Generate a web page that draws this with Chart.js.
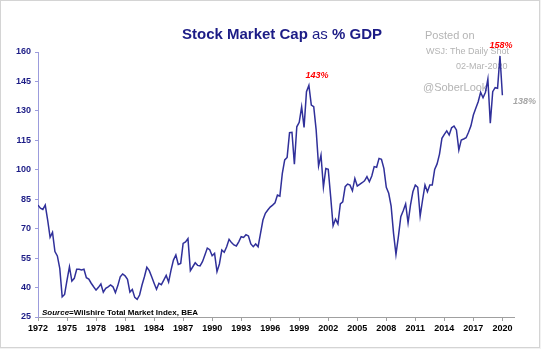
<!DOCTYPE html>
<html>
<head>
<meta charset="utf-8">
<title>Stock Market Cap as % GDP</title>
<script src="https://cdn.jsdelivr.net/npm/chart.js"></script>
<style>
  html, body { margin: 0; padding: 0; background: #fff; }
  #wrap { width: 541px; height: 349px; position: relative; }
</style>
</head>
<body>
<div id="wrap"><canvas id="capChart"></canvas></div>
<script>
// quarterly Wilshire 5000 market cap as % of GDP, starting Q1 1972
const firstYear = 1972;
const cap1970s = [82, 80.4, 79.8, 82, 74.4, 65.6, 68.1, 58.3, 56.1, 49.8, 35.3, 36.5,
  43.8, 50.6, 43.3, 44.7, 49.3, 49.3, 48.9, 49.3, 45, 44.3, 42.2, 40.4,
  38.7, 40.1, 41.8, 37.6, 39.6, 40.4, 41.3, 40.4];
const cap1980s = [37.4, 41, 45.5, 46.9, 46, 44.2, 37.7, 39, 35, 34, 36.2, 41.3,
  45.5, 50.3, 48.6, 45.5, 42.2, 39.1, 42.2, 41.5, 43.8, 46.2, 42.8, 48.9,
  54, 56.6, 51.8, 52.3, 62.5, 63.2, 64.9, 48.6, 50.6, 52.6, 51.3, 51,
  53.2, 56.6, 60.1, 59.3];
const cap1990s = [56.2, 57.4, 48.1, 52, 59.1, 58, 60.8, 64.6, 62.9, 61.7, 61.2, 63.3,
  65.9, 65.5, 66.9, 66.3, 62.2, 60.8, 62.2, 60.8, 67.6, 74.4, 77.8, 79.5,
  81, 82, 83.2, 87.1, 86.6, 98, 105, 106.3, 118.9, 119.1, 102.9, 121.9,
  124.2, 132.1, 121.6, 139.8];
const cap2000s = [143, 133, 132.1, 120.3, 101.9, 107.5, 91.1, 100.6, 100.2, 86.3, 71.5, 74.9,
  72.4, 82.6, 83.7, 91.4, 92.7, 92.2, 89.3, 95.6, 91.7, 92.6, 93.4, 94.4,
  96.5, 93.9, 96.8, 101.6, 101.3, 105.8, 105.3, 100.7, 91.1, 88, 81.5, 67.6,
  56.9, 65.9, 76.1, 79.1];
const cap2010s = [82.6, 73, 82, 88.8, 92.2, 91.1, 76.4, 84.6, 92.2, 88.8, 92.2, 92.2,
  100.2, 103, 108, 116, 118, 119.8, 117.7, 121.4, 122.3, 120.3, 110.1, 115.2,
  115.7, 116.3, 119.1, 122.4, 127.9, 131.3, 134.7, 139.5, 136.7, 139.5, 146.2, 123.7,
  139.8, 141.8, 141.5, 158];
const cap2020s = [138];

const yearTicks = [1972, 1975, 1978, 1981, 1984, 1987, 1990, 1993, 1996, 1999, 2002, 2005, 2008, 2011, 2014, 2017, 2020];
const pctTicks = [25, 40, 55, 70, 85, 100, 115, 130, 145, 160];

// value callouts: [year, value, text, colour, dx, dy]
const callouts = [
  [2000, 143, '143%', '#ff0000', 8, -10],
  [2019.75, 158, '158%', '#ff0000', 1, -10],
  [2020, 138, '138%', '#a6a6a6', 22, 6]
];

const capPct = [].concat(cap1970s, cap1980s, cap1990s, cap2000s, cap2010s, cap2020s);
const points = capPct.map((v, i) => ({ x: firstYear + i / 4, y: v }));

const FONT = 'Arial, "Liberation Sans", sans-serif';
const NAVY = '#1c1c86';

const decor = {
  id: 'decor',
  beforeDraw(chart) {
    const ctx = chart.ctx;
    ctx.save();
    ctx.fillStyle = '#f2f2f2';
    ctx.fillRect(0, 0, 541, 349);
    ctx.fillStyle = '#ffffff';
    ctx.fillRect(1, 1, 538, 346);
    ctx.strokeStyle = '#d4d4d4';
    ctx.lineWidth = 1;
    ctx.strokeRect(0.5, 0.5, 539, 347);

    // title with mixed weights
    const parts = [['bold', 'Stock Market Cap'], ['normal', ' as '], ['bold', '% GDP']];
    ctx.fillStyle = NAVY;
    ctx.textBaseline = 'middle';
    ctx.textAlign = 'left';
    let total = 0;
    parts.forEach(p => { ctx.font = p[0] + ' 15px ' + FONT; total += ctx.measureText(p[1]).width; });
    let x = 282 - total / 2;
    parts.forEach(p => {
      ctx.font = p[0] + ' 15px ' + FONT;
      ctx.fillText(p[1], x, 35);
      x += ctx.measureText(p[1]).width;
    });

    // source note
    ctx.fillStyle = '#000';
    ctx.font = 'italic bold 8px ' + FONT;
    ctx.fillText('Source', 42, 313);
    const sw = ctx.measureText('Source').width;
    ctx.font = 'bold 8px ' + FONT;
    ctx.fillText('=Wilshire Total Market Index, BEA', 42 + sw, 313);
    ctx.restore();
  },
  beforeDatasetsDraw(chart) {
    const ctx = chart.ctx;
    ctx.save();
    ctx.fillStyle = '#b4b4b4';
    ctx.textBaseline = 'middle';
    ctx.textAlign = 'left';
    ctx.font = '11px ' + FONT;
    ctx.fillText('Posted on', 425, 36);
    ctx.font = '9px ' + FONT;
    ctx.fillText('WSJ: The Daily Shot', 426, 52);
    ctx.fillText('02-Mar-2020', 456, 67);
    ctx.font = '11px ' + FONT;
    ctx.fillText('@SoberLook', 423, 88);
    ctx.restore();
  },
  afterDatasetsDraw(chart) {
    const ctx = chart.ctx;
    const xs = chart.scales.x, ys = chart.scales.y;
    ctx.save();
    ctx.textAlign = 'center';
    ctx.textBaseline = 'middle';
    ctx.font = 'italic bold 9px ' + FONT;
    callouts.forEach(c => {
      ctx.fillStyle = c[3];
      ctx.fillText(c[2], xs.getPixelForValue(c[0]) + c[4], ys.getPixelForValue(c[1]) + c[5]);
    });
    ctx.restore();
  }
};

new Chart(document.getElementById('capChart'), {
  type: 'line',
  data: {
    datasets: [{
      data: points,
      borderColor: '#30309a',
      borderWidth: 1.5,
      pointRadius: 0,
      tension: 0,
      fill: false
    }]
  },
  options: {
    responsive: true,
    maintainAspectRatio: false,
    animation: false,
    events: [],
    layout: { padding: { top: 52, right: 27, left: 0, bottom: 0 } },
    plugins: { legend: { display: false }, tooltip: { enabled: false } },
    scales: {
      x: {
        type: 'linear',
        min: 1972,
        max: 2021.2,
        afterBuildTicks: s => { s.ticks = yearTicks.map(v => ({ value: v })); },
        afterFit: s => { s.height = 32; },
        grid: { drawOnChartArea: false, drawTicks: true, tickLength: 4, color: '#a0a0a0' },
        border: { color: '#a0a0a0', width: 1 },
        ticks: {
          color: '#000',
          padding: 2,
          maxRotation: 0,
          autoSkip: false,
          font: { family: FONT, size: 9, weight: 'bold' },
          callback: v => String(v)
        }
      },
      y: {
        min: 25,
        max: 160,
        afterBuildTicks: s => { s.ticks = pctTicks.map(v => ({ value: v })); },
        afterFit: s => { s.width = 38; },
        grid: { drawOnChartArea: false, drawTicks: true, tickLength: 3, color: '#9c9cdc' },
        border: { color: '#9c9cdc', width: 1 },
        ticks: {
          color: NAVY,
          padding: 4,
          font: { family: FONT, size: 9, weight: 'bold' }
        }
      }
    }
  },
  plugins: [decor]
});
</script>
</body>
</html>
